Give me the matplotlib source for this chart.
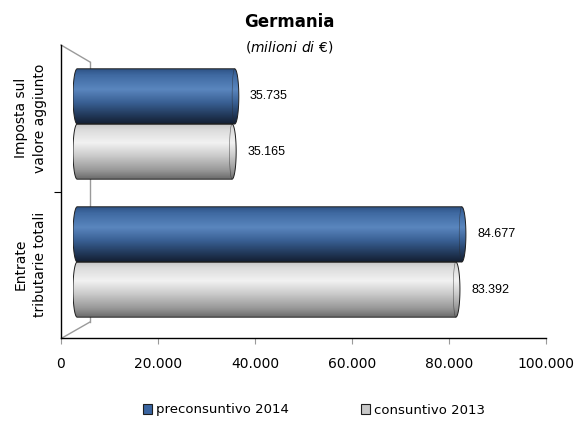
import numpy as np
import matplotlib
matplotlib.use("Agg")
import matplotlib.pyplot as plt
from matplotlib.path import Path
from matplotlib.patches import PathPatch, Patch
from matplotlib.colors import LinearSegmentedColormap
from matplotlib.lines import Line2D

# Data (milioni di euro)
categories = ["Entrate\ntributarie totali", "Imposta sul\nvalore aggiunto"]
preconsuntivo_2014 = [84677, 35735]
consuntivo_2013 = [83392, 35165]
series_names = ["preconsuntivo 2014", "consuntivo 2013"]
x_ticks = [0, 20000, 40000, 60000, 80000, 100000]

W, H = 578, 422
fig = plt.figure(figsize=(W / 100, H / 100), dpi=100)
fig.patch.set_facecolor("white")


def fig_box(x0, y0, x1, y1):
    # pixel box (top-left origin) -> figure fraction rect
    return [x0 / W, 1 - y1 / H, (x1 - x0) / W, (y1 - y0) / H]


# front axis (ticks, spines, category labels)
ax_front = fig.add_axes(fig_box(61, 45, 546, 338))
ax_front.set_facecolor("none")
ax_front.set_xlim(0, 100000)
ax_front.set_ylim(-0.5, 1.5)
ax_front.spines[["top", "right"]].set_visible(False)
for s in ["left", "bottom"]:
    ax_front.spines[s].set_color("black")
    ax_front.spines[s].set_linewidth(1.0)
ax_front.set_xticks(x_ticks)
ax_front.set_xticklabels([f"{t:,}".replace(",", ".") for t in x_ticks],
                         fontsize=10, family="DejaVu Sans")
ax_front.tick_params(axis="x", direction="out", length=4, color="#9a9a9a", pad=10)
ax_front.set_yticks([0.5])
ax_front.set_yticklabels([])
ax_front.tick_params(axis="y", which="major", direction="out", length=5, color="black")
ax_front.set_yticks([0, 1], minor=True)
ax_front.set_yticklabels(categories, minor=True, rotation=90, va="center",
                         ha="center", fontsize=10, family="DejaVu Sans",
                         linespacing=1.45)
ax_front.tick_params(axis="y", which="minor", length=0, pad=22)

# back wall lines, drawn under the bars
for xs, ys in [((61, 90), (45, 62)), ((90, 90), (62, 322)), ((90, 62), (322, 338))]:
    ax_front.add_line(Line2D([x / W for x in xs], [1 - y / H for y in ys],
                             color="#9a9a9a", lw=1.0, transform=fig.transFigure,
                             clip_on=False))

# bars plane
ax = fig.add_axes(fig_box(73, 55, 537, 331))
ax.set_facecolor("none")
ax.axis("off")

blue_cmap = LinearSegmentedColormap.from_list(
    "blu", [(0, "#2d5183"), (0.12, "#3f69a1"), (0.38, "#5a86be"),
            (0.62, "#395f93"), (0.85, "#213858"), (1, "#141f33")])
grey_cmap = LinearSegmentedColormap.from_list(
    "grigio", [(0, "#c4c4c4"), (0.12, "#dcdcdc"), (0.35, "#f2f2f2"),
               (0.6, "#c8c8c8"), (0.85, "#979797"), (1, "#6c6c6c")])

bar_h = 0.4
cap = 900  # half-width of the end ellipses, in data units


def cylinder(value, yc, cmap):
    top, bot = yc + bar_h / 2, yc - bar_h / 2
    t = np.linspace(np.pi / 2, -np.pi / 2, 40)
    right = np.column_stack([value - cap + cap * np.cos(t), yc + bar_h / 2 * np.sin(t)])
    t2 = np.linspace(-np.pi / 2, -3 * np.pi / 2, 40)
    left = np.column_stack([cap + cap * np.cos(t2), yc + bar_h / 2 * np.sin(t2)])
    verts = np.vstack([right, left, right[:1]])
    body = PathPatch(Path(verts, closed=True), facecolor="none",
                     edgecolor="#1e1e1e", lw=0.7, zorder=3)
    ax.add_patch(body)
    grad = cmap(np.linspace(0, 1, 120))[:, None, :3]
    im = ax.imshow(grad, extent=[0, value, bot, top], origin="upper",
                   aspect="auto", zorder=2, interpolation="bilinear")
    im.set_clip_path(body)
    # end face outline on the right side
    ax.plot(value - cap + 0.6 * cap * np.cos(t + np.pi), yc + bar_h / 2 * np.sin(t),
            color="#2a2a2a", lw=0.4, alpha=0.7, zorder=3)
    ax.annotate(f"{value:,}".replace(",", "."), (value, yc),
                xytext=(8, 0), textcoords="offset points", va="center",
                ha="left", fontsize=9, family="Liberation Sans", color="black")


for i in range(len(categories)):
    cylinder(preconsuntivo_2014[i], i + bar_h / 2, blue_cmap)
    cylinder(consuntivo_2013[i], i - bar_h / 2, grey_cmap)

ax.set_xlim(0, 100000)
ax.set_ylim(-0.5, 1.5)

# title
fig.text(289 / W, 1 - 22 / H, "Germania", ha="center", va="center",
         fontsize=12, fontweight="bold", family="DejaVu Sans")
fig.text(289 / W, 1 - 47 / H, "($\\mathit{milioni\\ di\\ €}$)", ha="center",
         va="center", fontsize=10, family="DejaVu Sans")

# legend
handles = [Patch(facecolor="#3a64a0", edgecolor="#1e1e1e", lw=0.8),
           Patch(facecolor="#c8c8c8", edgecolor="#1e1e1e", lw=0.8)]
fig.legend(handles, series_names, loc="center", ncol=2,
           bbox_to_anchor=(314 / W, 1 - 410 / H), frameon=False,
           handlelength=0.7, handleheight=0.7, handletextpad=0.3,
           columnspacing=5.5, prop={"family": "DejaVu Sans", "size": 9.5})

fig.savefig("out.png", dpi=100)
